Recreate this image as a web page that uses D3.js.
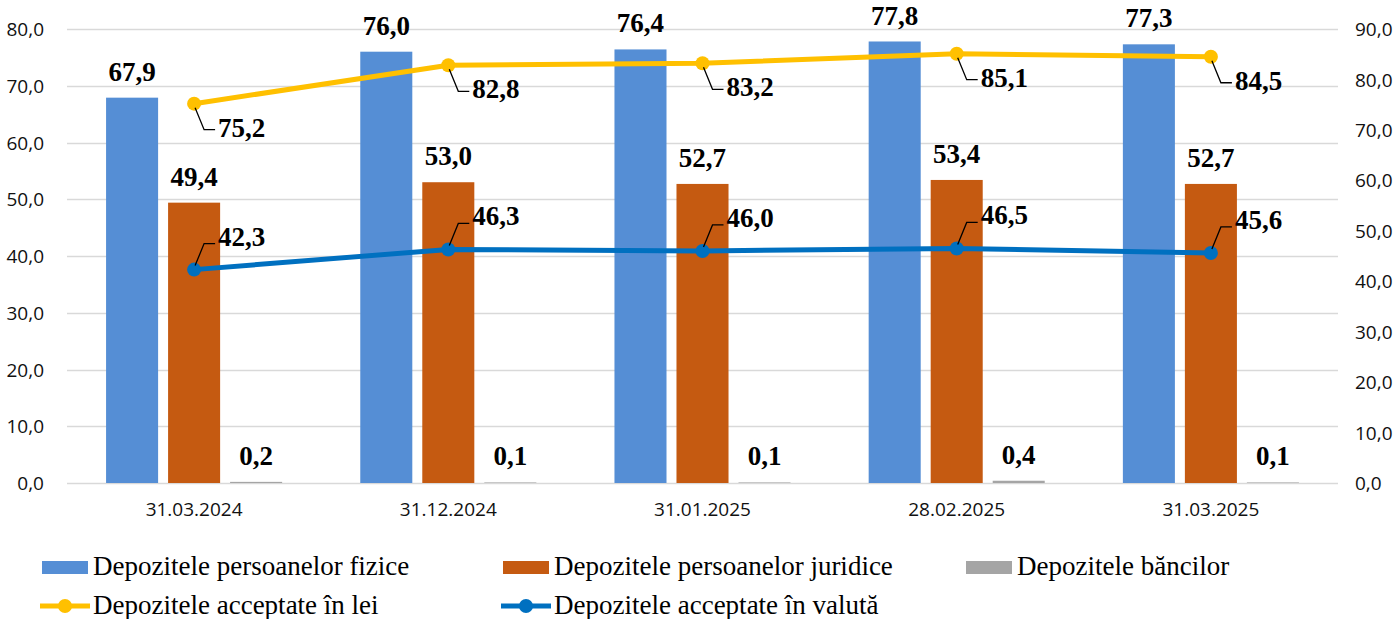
<!DOCTYPE html>
<html>
<head>
<meta charset="utf-8">
<script src="https://cdn.jsdelivr.net/npm/d3@7"></script>
<style>
  body { margin: 0; background: #fff; }
  svg text { font-family: "Liberation Serif", "Times New Roman", serif; fill: #000; }
  svg .tick text { font-family: "Open Sans", "Noto Sans", sans-serif; fill: #111; }
</style>
</head>
<body>
<div class="charts-container"></div>
<script>
// data
var dates = ["31.03.2024", "31.12.2024", "31.01.2025", "28.02.2025", "31.03.2025"];
var fizice = [67.9, 76.0, 76.4, 77.8, 77.3];
var juridice = [49.4, 53.0, 52.7, 53.4, 52.7];
var banci = [0.2, 0.1, 0.1, 0.4, 0.1];
var inLei = [75.2, 82.8, 83.2, 85.1, 84.5];
var inValuta = [42.3, 46.3, 46.0, 46.5, 45.6];
var leftTicks = [0, 10, 20, 30, 40, 50, 60, 70, 80];
var rightTicks = [0, 10, 20, 30, 40, 50, 60, 70, 80, 90];

var barSeries = [
  {key: "Depozitele persoanelor fizice", values: fizice, color: "#558ed5"},
  {key: "Depozitele persoanelor juridice", values: juridice, color: "#c55a11"},
  {key: "Depozitele băncilor", values: banci, color: "#a5a5a5"}
];
var lineSeries = [
  {key: "Depozitele acceptate în lei", values: inLei, color: "#ffc000", below: true},
  {key: "Depozitele acceptate în valută", values: inValuta, color: "#0070c0", below: false}
];

var margin = {top: 29, right: 59, bottom: 136, left: 67},
    width = 1397 - margin.left - margin.right,
    height = 619 - margin.top - margin.bottom;

var fmt = function(v) { return d3.format(".1f")(v).replace(".", ","); };

var svg = d3.select(".charts-container")
    .append("svg")
    .attr("width", width + margin.left + margin.right)
    .attr("height", height + margin.top + margin.bottom)
    .append("g")
    .attr("transform", "translate(" + margin.left + "," + margin.top + ")");

var x = d3.scaleBand()
    .domain(dates)
    .range([0, width]);

var xSub = d3.scaleBand()
    .domain(barSeries.map(function(s) { return s.key; }))
    .range([0, x.bandwidth()])
    .paddingInner(0.161)
    .paddingOuter(0.63);

var y = d3.scaleLinear().domain([0, 80]).range([height, 0]);
var y2 = d3.scaleLinear().domain([0, 90]).range([height, 0]);

// grid lines
svg.append("g")
    .selectAll("line")
    .data(leftTicks)
    .enter().append("line")
    .attr("x1", 0)
    .attr("x2", width)
    .attr("y1", function(d) { return Math.round(y(d)) + 0.5; })
    .attr("y2", function(d) { return Math.round(y(d)) + 0.5; })
    .attr("stroke", "#d9d9d9")
    .attr("stroke-width", 1.3);

// left axis
var yAxis = svg.append("g")
    .attr("transform", "translate(-20,0)")
    .call(d3.axisLeft(y).tickValues(leftTicks).tickFormat(fmt).tickSize(0));
yAxis.select(".domain").remove();
yAxis.selectAll("text")
    .style("font-size", "19px")
    .attr("dx", 0)
    .attr("dy", "0.35em");

// right axis
var y2Axis = svg.append("g")
    .attr("transform", "translate(" + (width + 14) + ",0)")
    .call(d3.axisRight(y2).tickValues(rightTicks).tickFormat(fmt).tickSize(0));
y2Axis.select(".domain").remove();
y2Axis.selectAll("text")
    .style("font-size", "19px")
    .attr("dy", "0.35em");

// x axis labels
var xAxis = svg.append("g")
    .attr("transform", "translate(0," + height + ")")
    .call(d3.axisBottom(x).tickSize(0));
xAxis.select(".domain").remove();
xAxis.selectAll("text")
    .style("font-size", "19px")
    .attr("y", 33)
    .attr("dy", 0);

// bars
var groups = svg.append("g")
    .selectAll("g")
    .data(dates)
    .enter().append("g")
    .attr("transform", function(d) { return "translate(" + x(d) + ",0)"; });

groups.selectAll("rect")
    .data(function(d, i) { return barSeries.map(function(s) { return {key: s.key, value: s.values[i], color: s.color}; }); })
    .enter().append("rect")
    .attr("x", function(d) { return xSub(d.key); })
    .attr("y", function(d) { return y(d.value); })
    .attr("width", xSub.bandwidth())
    .attr("height", function(d) { return height - y(d.value); })
    .attr("fill", function(d) { return d.color; });

groups.selectAll("text.barlabel")
    .data(function(d, i) { return barSeries.map(function(s) { return {key: s.key, value: s.values[i]}; }); })
    .enter().append("text")
    .attr("class", "barlabel")
    .attr("x", function(d) { return xSub(d.key) + xSub.bandwidth() / 2; })
    .attr("y", function(d) { return y(d.value) - 17; })
    .attr("text-anchor", "middle")
    .style("font-size", "27px")
    .style("font-weight", "bold")
    .text(function(d) { return fmt(d.value); });

// lines
var line = d3.line()
    .x(function(d, i) { return x(dates[i]) + x.bandwidth() / 2; })
    .y(function(d) { return y2(d); });

lineSeries.forEach(function(s) {
    var g = svg.append("g");
    g.append("path")
        .datum(s.values)
        .attr("d", line)
        .attr("fill", "none")
        .attr("stroke", s.color)
        .attr("stroke-width", 5)
        .attr("stroke-linejoin", "round");

    var pts = g.selectAll("g.pt")
        .data(s.values)
        .enter().append("g")
        .attr("class", "pt")
        .attr("transform", function(d, i) {
            return "translate(" + (x(dates[i]) + x.bandwidth() / 2) + "," + y2(d) + ")";
        });

    pts.append("circle")
        .attr("r", 7)
        .attr("fill", s.color);

    // leader lines + labels
    var dy = s.below ? 1 : -1;
    pts.append("path")
        .attr("d", "M1," + (dy * 4) + "L10," + (dy * 26) + "L21," + (dy * 26))
        .attr("fill", "none")
        .attr("stroke", "#000")
        .attr("stroke-width", 1.3);

    pts.append("text")
        .attr("x", 24)
        .attr("y", s.below ? 33 : -24)
        .style("font-size", "27px")
        .style("font-weight", "bold")
        .text(function(d) { return fmt(d); });
});

// legend
var legendItems = [
  {key: barSeries[0].key, color: barSeries[0].color, type: "bar", col: 0, row: 0},
  {key: barSeries[1].key, color: barSeries[1].color, type: "bar", col: 1, row: 0},
  {key: barSeries[2].key, color: barSeries[2].color, type: "bar", col: 2, row: 0},
  {key: lineSeries[0].key, color: lineSeries[0].color, type: "line", col: 0, row: 1},
  {key: lineSeries[1].key, color: lineSeries[1].color, type: "line", col: 1, row: 1}
];
var legendCols = [42, 503, 966];

var legend = d3.select("svg").append("g")
    .selectAll("g")
    .data(legendItems)
    .enter().append("g")
    .attr("transform", function(d) { return "translate(" + legendCols[d.col] + "," + (567 + d.row * 39) + ")"; });

legend.filter(function(d) { return d.type == "bar"; })
    .append("rect")
    .attr("x", 0)
    .attr("y", -6)
    .attr("width", 46)
    .attr("height", 13)
    .attr("fill", function(d) { return d.color; });

legend.filter(function(d) { return d.type == "line"; })
    .append("line")
    .attr("x1", -2).attr("x2", 48)
    .attr("y1", 0).attr("y2", 0)
    .attr("stroke", function(d) { return d.color; })
    .attr("stroke-width", 5);

legend.filter(function(d) { return d.type == "line"; })
    .append("circle")
    .attr("cx", 23)
    .attr("cy", 0)
    .attr("r", 7)
    .attr("fill", function(d) { return d.color; });

legend.append("text")
    .attr("x", 51)
    .attr("y", 8)
    .style("font-size", "27px")
    .text(function(d) { return d.key; });
</script>
</body>
</html>
